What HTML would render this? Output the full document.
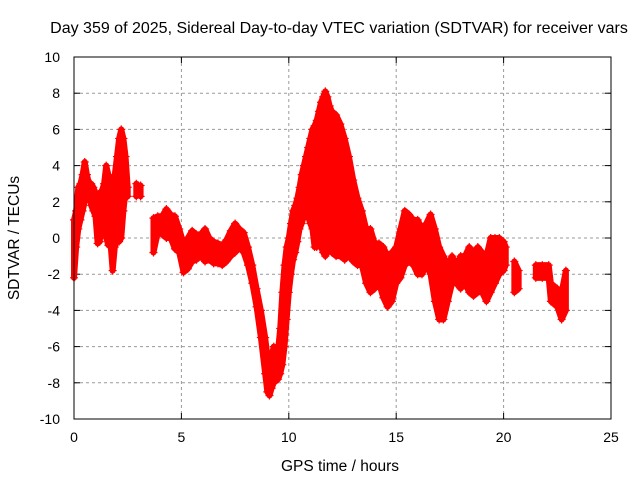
<!DOCTYPE html>
<html><head><meta charset="utf-8"><style>
body{margin:0;background:#fff}
svg{display:block;font-family:"Liberation Sans",sans-serif}
</style></head><body>
<svg id="chart" width="640" height="480" viewBox="0 0 640 480" xmlns="http://www.w3.org/2000/svg">
<rect width="640" height="480" fill="#fff"/>
<text x="339" y="33" font-size="16" text-anchor="middle">Day 359 of 2025, Sidereal Day-to-day VTEC variation (SDTVAR) for receiver vars</text>
<text x="340" y="471" font-size="15.5" text-anchor="middle">GPS time / hours</text>
<text transform="translate(19,238) rotate(-90)" font-size="15.5" text-anchor="middle">SDTVAR / TECUs</text>
<g id="grid"></g><g id="ticks"></g><g id="data"></g>
<rect x="74" y="57" width="537" height="362" fill="none" stroke="#000" stroke-width="1"/>
</svg>
<script>
const xTicks=[0,5,10,15,20,25];
const yTicks=[-10,-8,-6,-4,-2,0,2,4,6,8,10];
const times=[0.0,0.1,0.2,0.3,0.4,0.5,0.6,0.7,0.8,0.9,1.0,1.1,1.2,1.3,1.4,1.5,1.6,1.7,1.8,1.9,2.0,2.1,2.2,2.3,2.4,2.5,
2.9,3.0,3.1,
3.7,3.9,4.1,4.3,4.5,4.7,4.9,5.1,5.3,5.5,5.7,5.9,6.1,6.3,6.5,6.7,6.9,7.1,7.3,7.5,7.7,7.9,8.1,8.3,8.5,8.7,8.9,9.0,9.1,9.2,9.3,9.5,9.6,9.7,9.8,9.9,10.0,10.1,10.2,10.3,10.4,10.5,10.6,10.7,10.8,10.9,11.0,11.1,11.2,11.3,11.4,11.5,11.6,11.7,11.8,11.9,12.0,12.2,12.4,12.6,12.8,13.0,13.2,13.4,13.6,13.8,14.0,14.2,14.4,14.6,14.8,15.0,15.2,15.4,15.6,15.8,16.0,16.2,16.4,16.6,16.8,17.0,17.2,17.4,17.6,17.8,18.0,18.2,18.4,18.6,18.8,19.0,19.2,19.4,19.6,19.8,20.0,20.1,
20.5,20.7,
21.5,21.8,22.1,22.2,22.5,22.7,22.9];
const lowVals=[-2.2,-0.5,0.5,1,1.5,2,2.3,2.5,1.8,1.5,1.2,-0.3,-0.2,1.5,1.4,0,-0.4,-0.3,-1.8,-0.5,0,-0.2,0,1.5,2.6,2.3,
2.3,2.4,2.3,
-0.8,0.3,0.2,0,0,-0.6,-0.8,-1.9,-1.7,-1.3,-1.2,-1.0,-1.3,-1.2,-1.4,-1.4,-1.5,-1.3,-1,-0.8,-0.5,-0.8,-1.5,-2.5,-3.8,-5.5,-7.5,-8.5,-8.7,-8.3,-8,-7.8,-7.5,-7,-6,-4.5,-3,-2,-1.2,-0.8,-0.2,0.5,0.8,1.2,1.5,1.2,0.8,0.5,-0.5,-0.5,0.5,-0.5,-0.8,-1,-0.8,-0.5,-0.8,-1,-1,-1.2,-1,-1.3,-1.5,-1.5,-2.5,-3,-2.8,-2.5,-3.3,-3.8,-3.5,-2.5,-2.2,-1.5,-1.3,-1.5,-2,-2,-1.5,-2,-3.5,-4.5,-4.5,-3.5,-2.5,-2.5,-2.8,-2.5,-3,-3.2,-3,-3,-3.5,-3,-2.5,-2,-1.8,-1.5,
-3,-2.8,
-2.2,-2.2,-2.2,-3.5,-3.8,-4.5,-4];
const highVals=[1.0,1.5,2.8,3,3.5,4.2,3.5,3,3,2.8,2.5,2.3,2.5,2.6,3,4,3.5,3,3.2,3.5,4.5,5.5,6,5.5,4.5,2.8,
3.0,2.9,2.9,
1.1,1.2,1.2,1.6,1.3,1.2,0.5,-0.3,0,0.4,0.2,0.2,0.5,0,-0.2,-0.3,-0.4,-0.1,0.4,0.8,0.5,0.3,-0.5,-1.5,-2.8,-4,-5.5,-6.5,-7,-6.5,-6,-6.2,-5,-3,-1.5,-0.5,0,0.8,1.5,1.8,2.2,2.8,3.5,4,4.5,5,5.5,6,6.2,6.5,7,7.5,7.8,8.1,7.8,7.3,7,6.8,6.3,5.5,4.5,3.2,2.2,1.5,0.5,0.5,-0.3,-0.3,-0.5,-1,-0.8,-0.5,0.5,1.5,1.3,1,1,0.5,0.8,1.3,0.5,-0.5,-1,-1.5,-1,-1.5,-1.0,-1,-0.5,-0.8,-0.5,-0.8,-1,0,0,0,-0.2,-0.5,
-1.3,-1.8,
-1.5,-1.5,-1.5,-2.5,-2.8,-3,-1.8];
const X0=74,X1=611,Y0=419,Y1=57;
const xs=v=>X0+(v-0)/25*(X1-X0);
const ys=v=>Y0-(v+10)/20*(Y0-Y1);
const NS="http://www.w3.org/2000/svg";
const g=document.getElementById('grid'),tk=document.getElementById('ticks'),dg=document.getElementById('data');
function mk(tag,attrs,parent){const e=document.createElementNS(NS,tag);for(const k in attrs)e.setAttribute(k,attrs[k]);parent.appendChild(e);return e;}
xTicks.forEach(v=>{const x=xs(v);
 if(v>0&&v<25){const l=mk('line',{x1:x,x2:x,y1:Y1,y2:Y0,stroke:'#999','stroke-dasharray':'3,3'},g);
 
 }
 mk('line',{x1:x,x2:x,y1:Y0,y2:Y0-6,stroke:'#000'},tk);mk('line',{x1:x,x2:x,y1:Y1,y2:Y1+6,stroke:'#000'},tk);
 const t=mk('text',{x:x,y:Y0+23,'font-size':14,'text-anchor':'middle'},tk);t.textContent=v;
 
 });
yTicks.forEach(v=>{const y=ys(v);
 if(v>-10&&v<10){const l=mk('line',{x1:X0,x2:X1,y1:y,y2:y,stroke:'#999','stroke-dasharray':'3,3'},g);
 
 }
 mk('line',{x1:X0,x2:X0+6,y1:y,y2:y,stroke:'#000'},tk);mk('line',{x1:X1,x2:X1-6,y1:y,y2:y,stroke:'#000'},tk);
 const t=mk('text',{x:X0-14,y:y+5,'font-size':14,'text-anchor':'end'},tk);t.textContent=v;
 
 });
let segs=[],cur=[0];
for(let i=1;i<times.length;i++){if(times[i]-times[i-1]>0.35){segs.push(cur);cur=[];}cur.push(i);}segs.push(cur);
segs.forEach(s=>{
 let pts=s.map(i=>xs(times[i])+','+ys(highVals[i]));
 pts=pts.concat(s.slice().reverse().map(i=>xs(times[i])+','+ys(lowVals[i])));
 const p=mk('polygon',{points:pts.join(' '),fill:'#f00',stroke:'#f00','stroke-width':6,'stroke-linejoin':'round'},dg);
 
 
});
times.forEach((t,i)=>{[lowVals[i],highVals[i]].forEach(v=>{const x=xs(t),y=ys(v);
 const m=mk('path',{d:`M${x-4},${y}h8M${x},${y-4}v8`,stroke:'#f00','stroke-width':1.2},dg);
 
 });});
</script>
</body></html>
